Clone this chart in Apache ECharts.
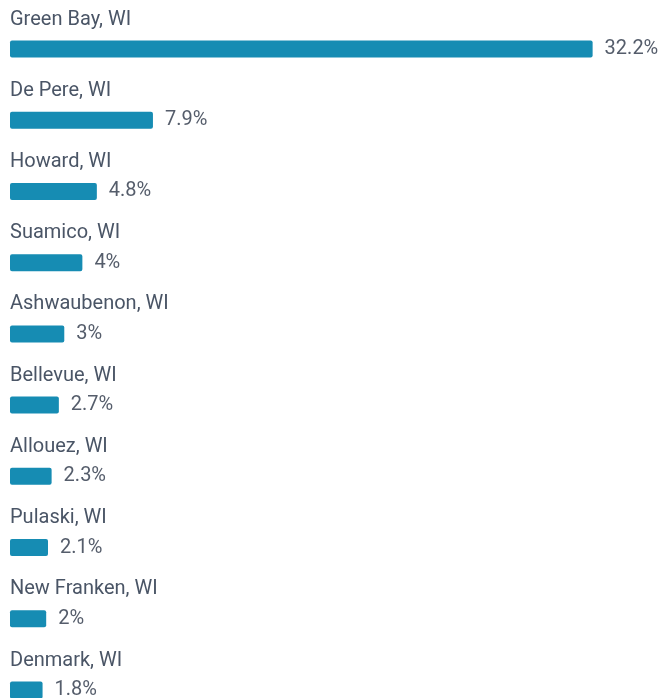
<!DOCTYPE html>
<html>
<head>
<meta charset="utf-8">
<script src="https://cdn.jsdelivr.net/npm/echarts@6/dist/echarts.min.js"></script>
<style>
html, body { margin: 0; padding: 0; background: #fff; }
#chart { width: 665px; height: 698px; }
</style>
</head>
<body>
<div id="chart"></div>
<script>
// cities and their share, top to bottom
let cities = ["Green Bay, WI", "De Pere, WI", "Howard, WI", "Suamico, WI", "Ashwaubenon, WI",
    "Bellevue, WI", "Allouez, WI", "Pulaski, WI", "New Franken, WI", "Denmark, WI"]
let shares = [32.2, 7.9, 4.8, 4, 3, 2.7, 2.3, 2.1, 2, 1.8]

let barColor = "#168cb3"
let nameColor = "#4a5566"
let valueColor = "#555d6b"

let chart = echarts.init(document.getElementById("chart"))

chart.setOption({
    backgroundColor: "#fff",
    animation: false,
    textStyle: { fontFamily: "Roboto, sans-serif" },
    grid: { left: 10, right: 0, top: 49, bottom: 8 },
    xAxis: {
        type: "value",
        min: 0,
        max: 36.2,
        show: false
    },
    yAxis: {
        type: "category",
        data: cities,
        inverse: true,
        boundaryGap: false,
        show: false
    },
    series: [{
        type: "bar",
        data: shares,
        barWidth: 17,
        itemStyle: { color: barColor, borderRadius: 2 },
        label: {
            show: true,
            position: "right",
            distance: 12,
            color: valueColor,
            fontSize: 20,
            formatter: function (p) { return p.value + "%" }
        }
    }, {
        // invisible twin bar, just to hang the city name above each bar
        type: "bar",
        data: shares,
        barWidth: 17,
        barGap: "-100%",
        silent: true,
        itemStyle: { color: "transparent" },
        label: {
            show: true,
            position: [0, -21],
            align: "left",
            verticalAlign: "middle",
            color: nameColor,
            fontSize: 20,
            formatter: function (p) { return p.name }
        }
    }]
})
</script>
</body>
</html>
